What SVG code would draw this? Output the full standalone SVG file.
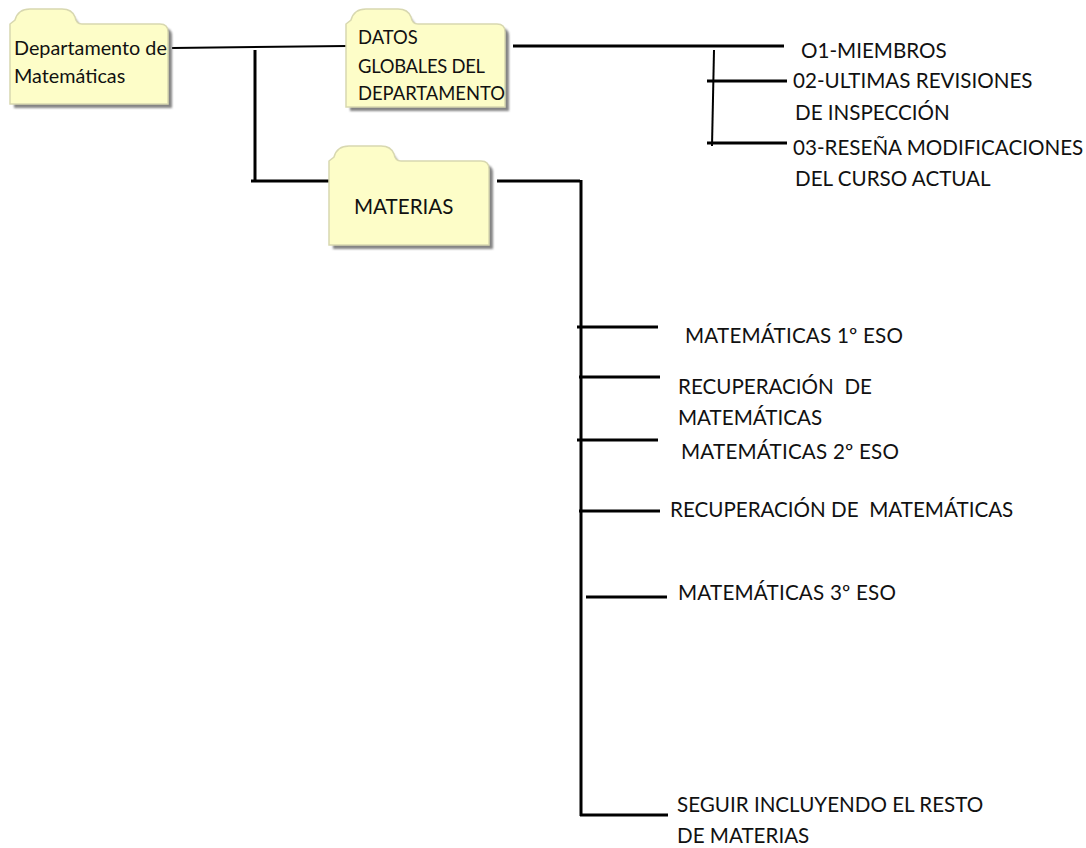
<svg xmlns="http://www.w3.org/2000/svg" width="1086" height="848" viewBox="0 0 1086 848">
<style>
text{font-family:"Lato","Carlito","Open Sans",sans-serif;fill:#111;font-size:20.6px}
.s{font-size:19.8px}
.d{font-size:18.4px}
.f{fill:#fdfdc8;stroke:#d8d8b0;stroke-width:1.5}
.sh{fill:#777;opacity:.9}
#connectors line{stroke:#000;stroke-width:3}
#connectors line.t{stroke-width:2}
</style>
<defs>
<filter id="b" x="-5%" y="-5%" width="110%" height="110%"><feGaussianBlur stdDeviation="1"/></filter>
</defs>
<rect width="1086" height="848" fill="#fff"/>
<g id="connectors">
<line class="t" x1="172" y1="48" x2="347" y2="46"/>
<line x1="255" y1="50" x2="255" y2="182"/>
<line x1="251" y1="181" x2="332" y2="181"/>
<line x1="513" y1="46" x2="784" y2="46"/>
<line class="t" x1="714" y1="50" x2="712" y2="146"/>
<line x1="707" y1="81" x2="787" y2="81"/>
<line x1="707" y1="143" x2="787" y2="143"/>
<line x1="497" y1="181" x2="580" y2="181"/>
<line x1="581" y1="180" x2="581" y2="816"/>
<line x1="577" y1="327" x2="658" y2="327"/>
<line x1="579" y1="377" x2="660" y2="377"/>
<line x1="577" y1="440" x2="658" y2="440"/>
<line x1="579" y1="511" x2="660" y2="511"/>
<line x1="586" y1="597" x2="667" y2="597"/>
<line x1="580" y1="815" x2="668" y2="815"/>
</g>
<g id="node-departamento">
<path class="sh" filter="url(#b)" d="M14 108V28L24 14H72L82 28H164Q172 28 172 36V108Z"/>
<path class="f" d="M10 104V24L15 20Q18 9 30 9H62Q72 9 75 17Q76 24 82 24H160Q168 24 168 32V104Z"/>
<text class="s" x="14" y="55">Departamento de</text>
<text class="s" x="14" y="83">Matemáticas</text>
</g>
<g id="node-datos">
<path class="sh" filter="url(#b)" d="M350 111V28L360 14H408L418 28H501Q509 28 509 36V111Z"/>
<path class="f" d="M346 107V24L351 20Q354 9 366 9H398Q408 9 411 17Q412 24 418 24H497Q505 24 505 32V107Z"/>
<text class="d" x="358" y="44">DATOS</text>
<text class="d" x="358" y="73" textLength="127">GLOBALES DEL</text>
<text class="d" x="358" y="100">DEPARTAMENTO</text>
</g>
<g id="node-materias">
<path class="sh" filter="url(#b)" d="M333 249V165L343 151H391L401 165H485Q493 165 493 173V249Z"/>
<path class="f" d="M329 245V161L334 157Q337 146 349 146H381Q391 146 394 154Q395 161 401 161H481Q489 161 489 169V245Z"/>
<text x="354" y="214">MATERIAS</text>
</g>
<g id="labels">
<text x="801" y="58">O1-MIEMBROS</text>
<text x="793" y="88">02-ULTIMAS REVISIONES</text>
<text x="795" y="120">DE INSPECCIÓN</text>
<text x="793" y="155">03-RESEÑA MODIFICACIONES</text>
<text x="795" y="186">DEL CURSO ACTUAL</text>
<text x="685" y="343" textLength="218">MATEMÁTICAS 1º ESO</text>
<text x="678" y="394" xml:space="preserve">RECUPERACIÓN  DE</text>
<text x="678" y="425">MATEMÁTICAS</text>
<text x="681" y="459" textLength="218">MATEMÁTICAS 2º ESO</text>
<text x="670" y="517" xml:space="preserve">RECUPERACIÓN DE  MATEMÁTICAS</text>
<text x="678" y="600" textLength="218">MATEMÁTICAS 3º ESO</text>
<text x="677" y="812">SEGUIR INCLUYENDO EL RESTO</text>
<text x="677" y="843">DE MATERIAS</text>
</g>
</svg>
